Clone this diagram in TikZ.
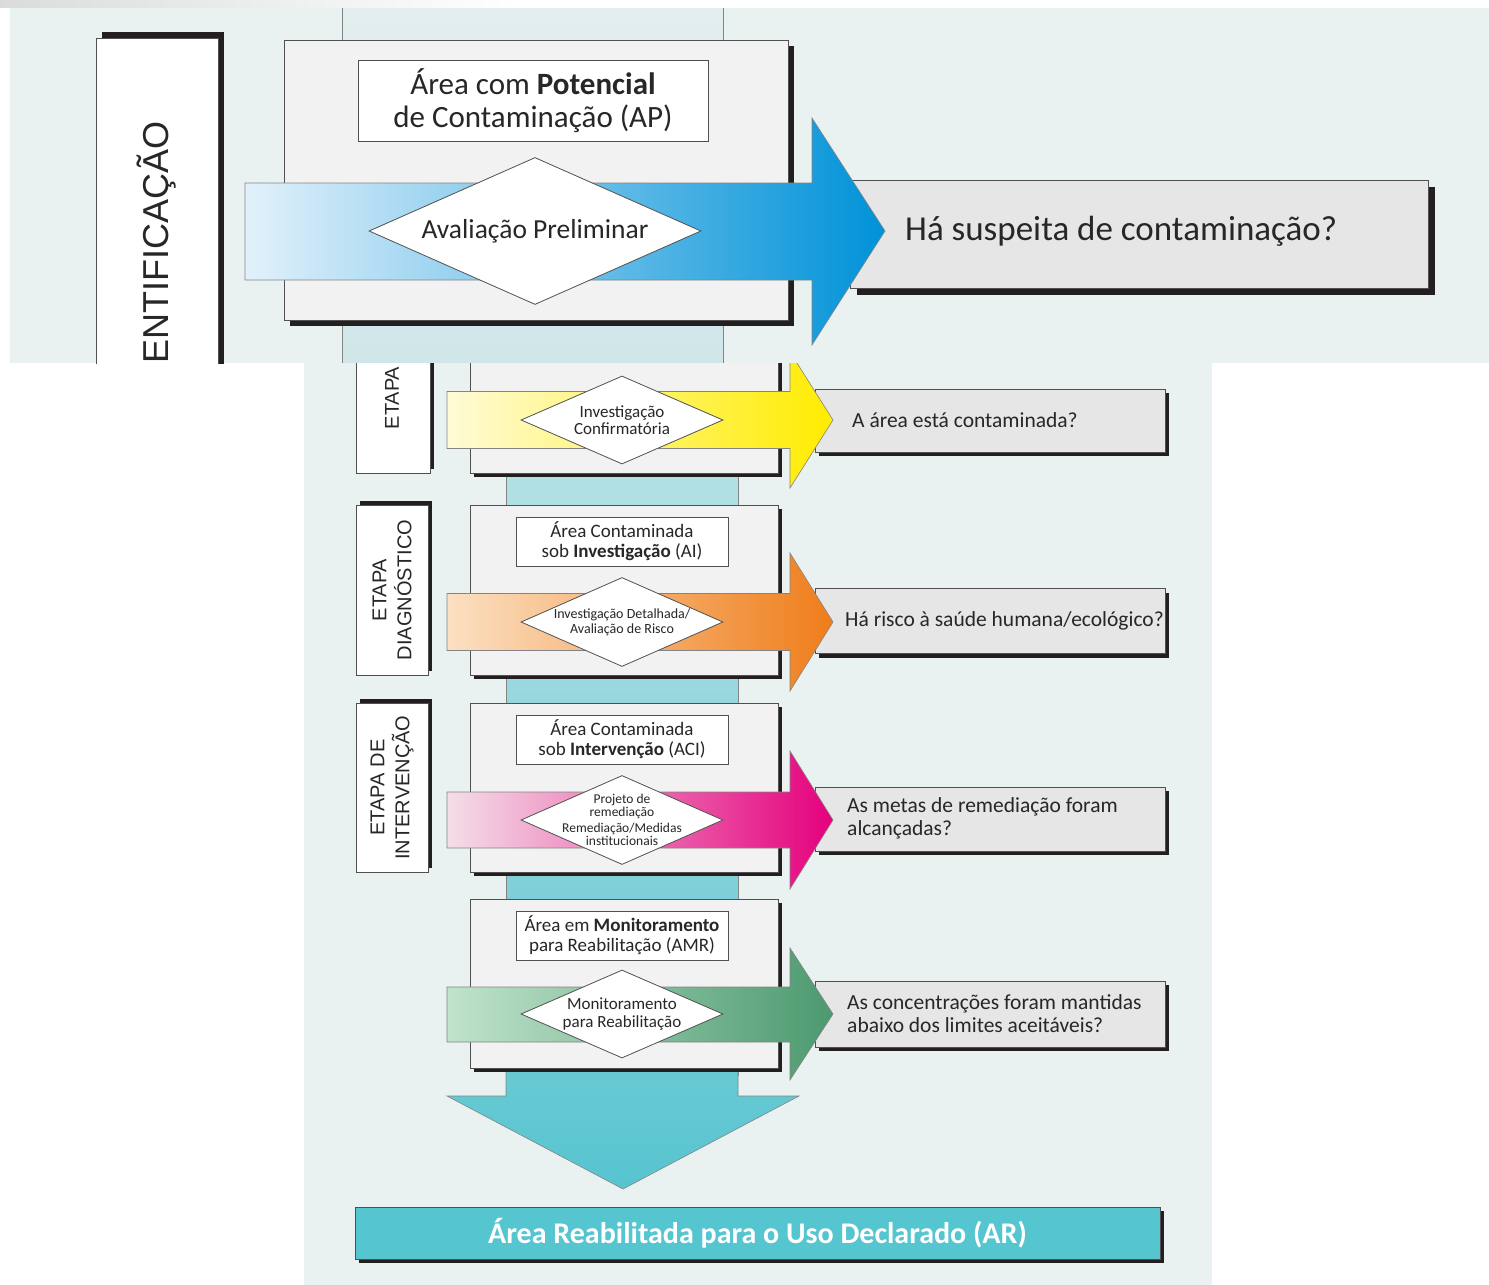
\documentclass[tikz,border=0pt]{standalone}
\usepackage{fontspec}
\setmainfont{Carlito}
\newfontfamily\stagefam{Liberation Sans}
\usetikzlibrary{shapes.geometric,shadows}

\definecolor{panelbg}{RGB}{233,242,241}
\definecolor{boxgray}{RGB}{242,242,242}
\definecolor{askgray}{RGB}{230,230,230}
\definecolor{edgegray}{RGB}{80,80,80}
\definecolor{inkgray}{RGB}{40,38,38}
\definecolor{shadowblk}{RGB}{35,31,32}
\definecolor{bandlt}{RGB}{228,238,238}
\definecolor{bandtop}{RGB}{207,230,232}
\definecolor{bandhi}{RGB}{200,232,234}
\definecolor{bandbot}{RGB}{104,200,210}
\definecolor{downtop}{RGB}{106,202,212}
\definecolor{downbot}{RGB}{86,196,207}
\definecolor{bluelt}{RGB}{226,241,251}
\definecolor{bluemid}{RGB}{100,188,232}
\definecolor{bluedk}{RGB}{0,146,216}
\definecolor{yellowlt}{RGB}{255,251,214}
\definecolor{yellowdk}{RGB}{255,236,0}
\definecolor{orangelt}{RGB}{251,224,194}
\definecolor{orangedk}{RGB}{239,125,26}
\definecolor{pinklt}{RGB}{244,222,232}
\definecolor{pinkdk}{RGB}{229,0,125}
\definecolor{greenlt}{RGB}{192,227,204}
\definecolor{greendk}{RGB}{76,154,111}
\definecolor{reabcyan}{RGB}{85,197,208}

\tikzset{
  stagebox/.style={draw=edgegray, line width=0.8pt, fill=white, inner sep=0pt,
    drop shadow={shadow xshift=#1, shadow yshift=#1, fill=shadowblk, opacity=1}},
  areabox/.style={draw=edgegray, line width=0.8pt, fill=boxgray, inner sep=0pt,
    drop shadow={shadow xshift=#1, shadow yshift=-#1, fill=shadowblk, opacity=1}},
  askbox/.style={draw=edgegray, line width=0.8pt, fill=askgray, inner sep=0pt,
    drop shadow={shadow xshift=#1, shadow yshift=-#1, fill=shadowblk, opacity=1}},
  tagbox/.style={draw=edgegray, line width=0.8pt, fill=white, inner sep=0pt, align=center, text=inkgray},
  stepdiamond/.style={diamond, draw=edgegray, line width=0.8pt, fill=white, inner sep=0pt},
  steptext/.style={inner sep=0pt, align=center, text=inkgray},
  stagetext/.style={inner sep=0pt, align=center, rotate=90, text=inkgray},
  asktext/.style={anchor=west, inner sep=0pt, align=left, text=inkgray},
  flow/.style={draw=edgegray!70, line width=0.6pt},
}

\begin{document}
\begin{tikzpicture}[x=1pt,y=-1pt]
\useasboundingbox (0,0) rectangle (1489,1285);
\fill[white] (0,0) rectangle (1489,1285);
%Shape: fade strip
\shade[left color=black!14, right color=white] (0,0) rectangle (520,7);

% ---------- enlarged panel ----------
\begin{scope}
\clip (10,8) rectangle (1489,363);
\fill[panelbg] (10,8) rectangle (1489,363);
%Shape: column band
\shadedraw[top color=bandlt, bottom color=bandtop, draw=edgegray!70, line width=0.8pt] (342,0) rectangle (723,370);
%Shape: stage box
\node[stagebox=6pt, minimum width=122pt, minimum height=362pt] (idstage) at (157,219) {};
% Text Node
\node[stagetext, anchor=base west, font=\stagefam\fontsize{36}{42}\selectfont] (idstagetext) at (168,364) {ENTIFICAÇÃO};
%Shape: area box
\node[areabox=6pt, minimum width=504pt, minimum height=280pt] (aparea) at (536,180) {};
% Text Node
\node[tagbox, minimum width=350pt, minimum height=81pt, font=\fontsize{31}{33}\selectfont] (aptag) at (533,100.5) {Área com \textbf{Potencial}\\de Contaminação (AP)};
%Shape: question box
\node[askbox=7pt, minimum width=578pt, minimum height=108pt] (apask) at (1139,234) {};
%Shape: blue arrow
\shadedraw[flow, left color=bluelt, middle color=bluemid, right color=bluedk] (245,183) -- (812,183) -- (812,118) -- (885,231) -- (812,345) -- (812,280) -- (245,280) -- cycle;
%Shape: diamond
\node[stepdiamond, minimum width=332pt, minimum height=147pt] (prelim) at (535,231) {};
% Text Node
\node[steptext, font=\fontsize{27.5}{30}\selectfont] (prelimtext) at (prelim) {Avaliação Preliminar};
% Text Node
\node[asktext, font=\fontsize{35}{40}\selectfont] (apasktext) at (905,231) {Há suspeita de contaminação?};
\end{scope}

% ---------- flow panel ----------
\begin{scope}
\clip (304,363) rectangle (1212,1285);
\fill[panelbg] (304,363) rectangle (1212,1285);
%Shape: column band
\shadedraw[top color=bandhi, bottom color=bandbot, draw=edgegray!70, line width=0.6pt] (506,300) rectangle (738,1075);
%Shape: down arrow
\shadedraw[flow, top color=downtop, bottom color=downbot] (506,1060) -- (738,1060) -- (738,1096) -- (799,1096) -- (623,1189) -- (447,1096) -- (506,1096) -- cycle;

%Shape: confirmatory row
\node[stagebox=4pt, minimum width=74pt, minimum height=183pt] (cfmstage) at (393,381.5) {};
\node[stagetext, font=\stagefam\fontsize{20}{25}\selectfont] (cfmstagetext) at (392,398) {ETAPA};
\node[areabox=4pt, minimum width=308pt, minimum height=183pt] (cfmarea) at (624,381.5) {};
\node[askbox=4pt, minimum width=350pt, minimum height=63pt] (cfmask) at (990,420.5) {};
\shadedraw[flow, left color=yellowlt, right color=yellowdk] (447,391.5) -- (790,391.5) -- (790,352) -- (833,420) -- (790,488) -- (790,448.5) -- (447,448.5) -- cycle;
\node[stepdiamond, minimum width=202pt, minimum height=88pt] (cfmstep) at (622,420) {};
\node[steptext, font=\fontsize{17}{17}\selectfont] (cfmsteptext) at (cfmstep) {Investigação\\Confirmatória};
\node[asktext, font=\fontsize{21.5}{23}\selectfont] (cfmasktext) at (852,420) {A área está contaminada?};

%Shape: diagnostic row
\node[stagebox=4pt, minimum width=72pt, minimum height=170pt] (dgnstage) at (392,590) {};
\node[stagetext, font=\stagefam\fontsize{20}{25}\selectfont] (dgnstagetext) at (392,590) {ETAPA\\DIAGNÓSTICO};
\node[areabox=4pt, minimum width=308pt, minimum height=170pt] (dgnarea) at (624,590) {};
\node[tagbox, minimum width=212pt, minimum height=49pt, font=\fontsize{19}{20}\selectfont] (dgntag) at (622,541.5) {Área Contaminada\\sob \textbf{Investigação} (AI)};
\node[askbox=4pt, minimum width=350pt, minimum height=65pt] (dgnask) at (990,621) {};
\shadedraw[flow, left color=orangelt, right color=orangedk] (447,593.5) -- (790,593.5) -- (790,553) -- (833,622) -- (790,691) -- (790,650.5) -- (447,650.5) -- cycle;
\node[stepdiamond, minimum width=202pt, minimum height=89pt] (dgnstep) at (622,622) {};
\node[steptext, font=\fontsize{14}{15}\selectfont] (dgnsteptext) at (dgnstep) {Investigação Detalhada/\\Avaliação de Risco};
\node[asktext, font=\fontsize{21.5}{23}\selectfont] (dgnasktext) at (845,621) {Há risco à saúde humana/ecológico?};

%Shape: intervention row
\node[stagebox=4pt, minimum width=72pt, minimum height=169pt] (itvstage) at (392,787.5) {};
\node[stagetext, font=\stagefam\fontsize{20}{25}\selectfont] (itvstagetext) at (392,787.5) {ETAPA DE\\INTERVENÇÃO};
\node[areabox=4pt, minimum width=308pt, minimum height=169pt] (itvarea) at (624,787.5) {};
\node[tagbox, minimum width=212pt, minimum height=49pt, font=\fontsize{19}{20}\selectfont] (itvtag) at (622,739.5) {Área Contaminada\\sob \textbf{Intervenção} (ACI)};
\node[askbox=4pt, minimum width=350pt, minimum height=64pt] (itvask) at (990,819) {};
\shadedraw[flow, left color=pinklt, right color=pinkdk] (447,792) -- (790,792) -- (790,751) -- (833,820) -- (790,889) -- (790,848) -- (447,848) -- cycle;
\node[stepdiamond, minimum width=202pt, minimum height=89pt] (itvstep) at (622,820) {};
\node[steptext, font=\fontsize{13.5}{13}\selectfont] (itvsteptext) at (itvstep) {Projeto de\\remediação\\[3pt]Remediação/Medidas\\institucionais};
\node[asktext, font=\fontsize{21.5}{23}\selectfont] (itvasktext) at (847,818) {As metas de remediação foram\\alcançadas?};

%Shape: monitoring row
\node[areabox=4pt, minimum width=308pt, minimum height=169pt] (monarea) at (624,983.5) {};
\node[tagbox, minimum width=212pt, minimum height=49pt, font=\fontsize{19}{20}\selectfont] (montag) at (622,935.5) {Área em \textbf{Monitoramento}\\para Reabilitação (AMR)};
\node[askbox=4pt, minimum width=350pt, minimum height=66pt] (monask) at (990,1014) {};
\shadedraw[flow, left color=greenlt, right color=greendk] (447,987) -- (790,987) -- (790,948) -- (833,1014) -- (790,1080) -- (790,1042) -- (447,1042) -- cycle;
\node[stepdiamond, minimum width=202pt, minimum height=88pt] (monstep) at (622,1014) {};
\node[steptext, font=\fontsize{17}{18}\selectfont] (monsteptext) at (monstep) {Monitoramento\\para Reabilitação};
\node[asktext, font=\fontsize{21.5}{23}\selectfont] (monasktext) at (847,1014) {As concentrações foram mantidas\\abaixo dos limites aceitáveis?};

%Shape: final box
\node[askbox=4pt, fill=reabcyan, minimum width=805pt, minimum height=52pt, text=white, font=\bfseries\fontsize{30}{32}\selectfont] (reab) at (757.5,1233) {Área Reabilitada para o Uso Declarado (AR)};
\end{scope}
\end{tikzpicture}
\end{document}
